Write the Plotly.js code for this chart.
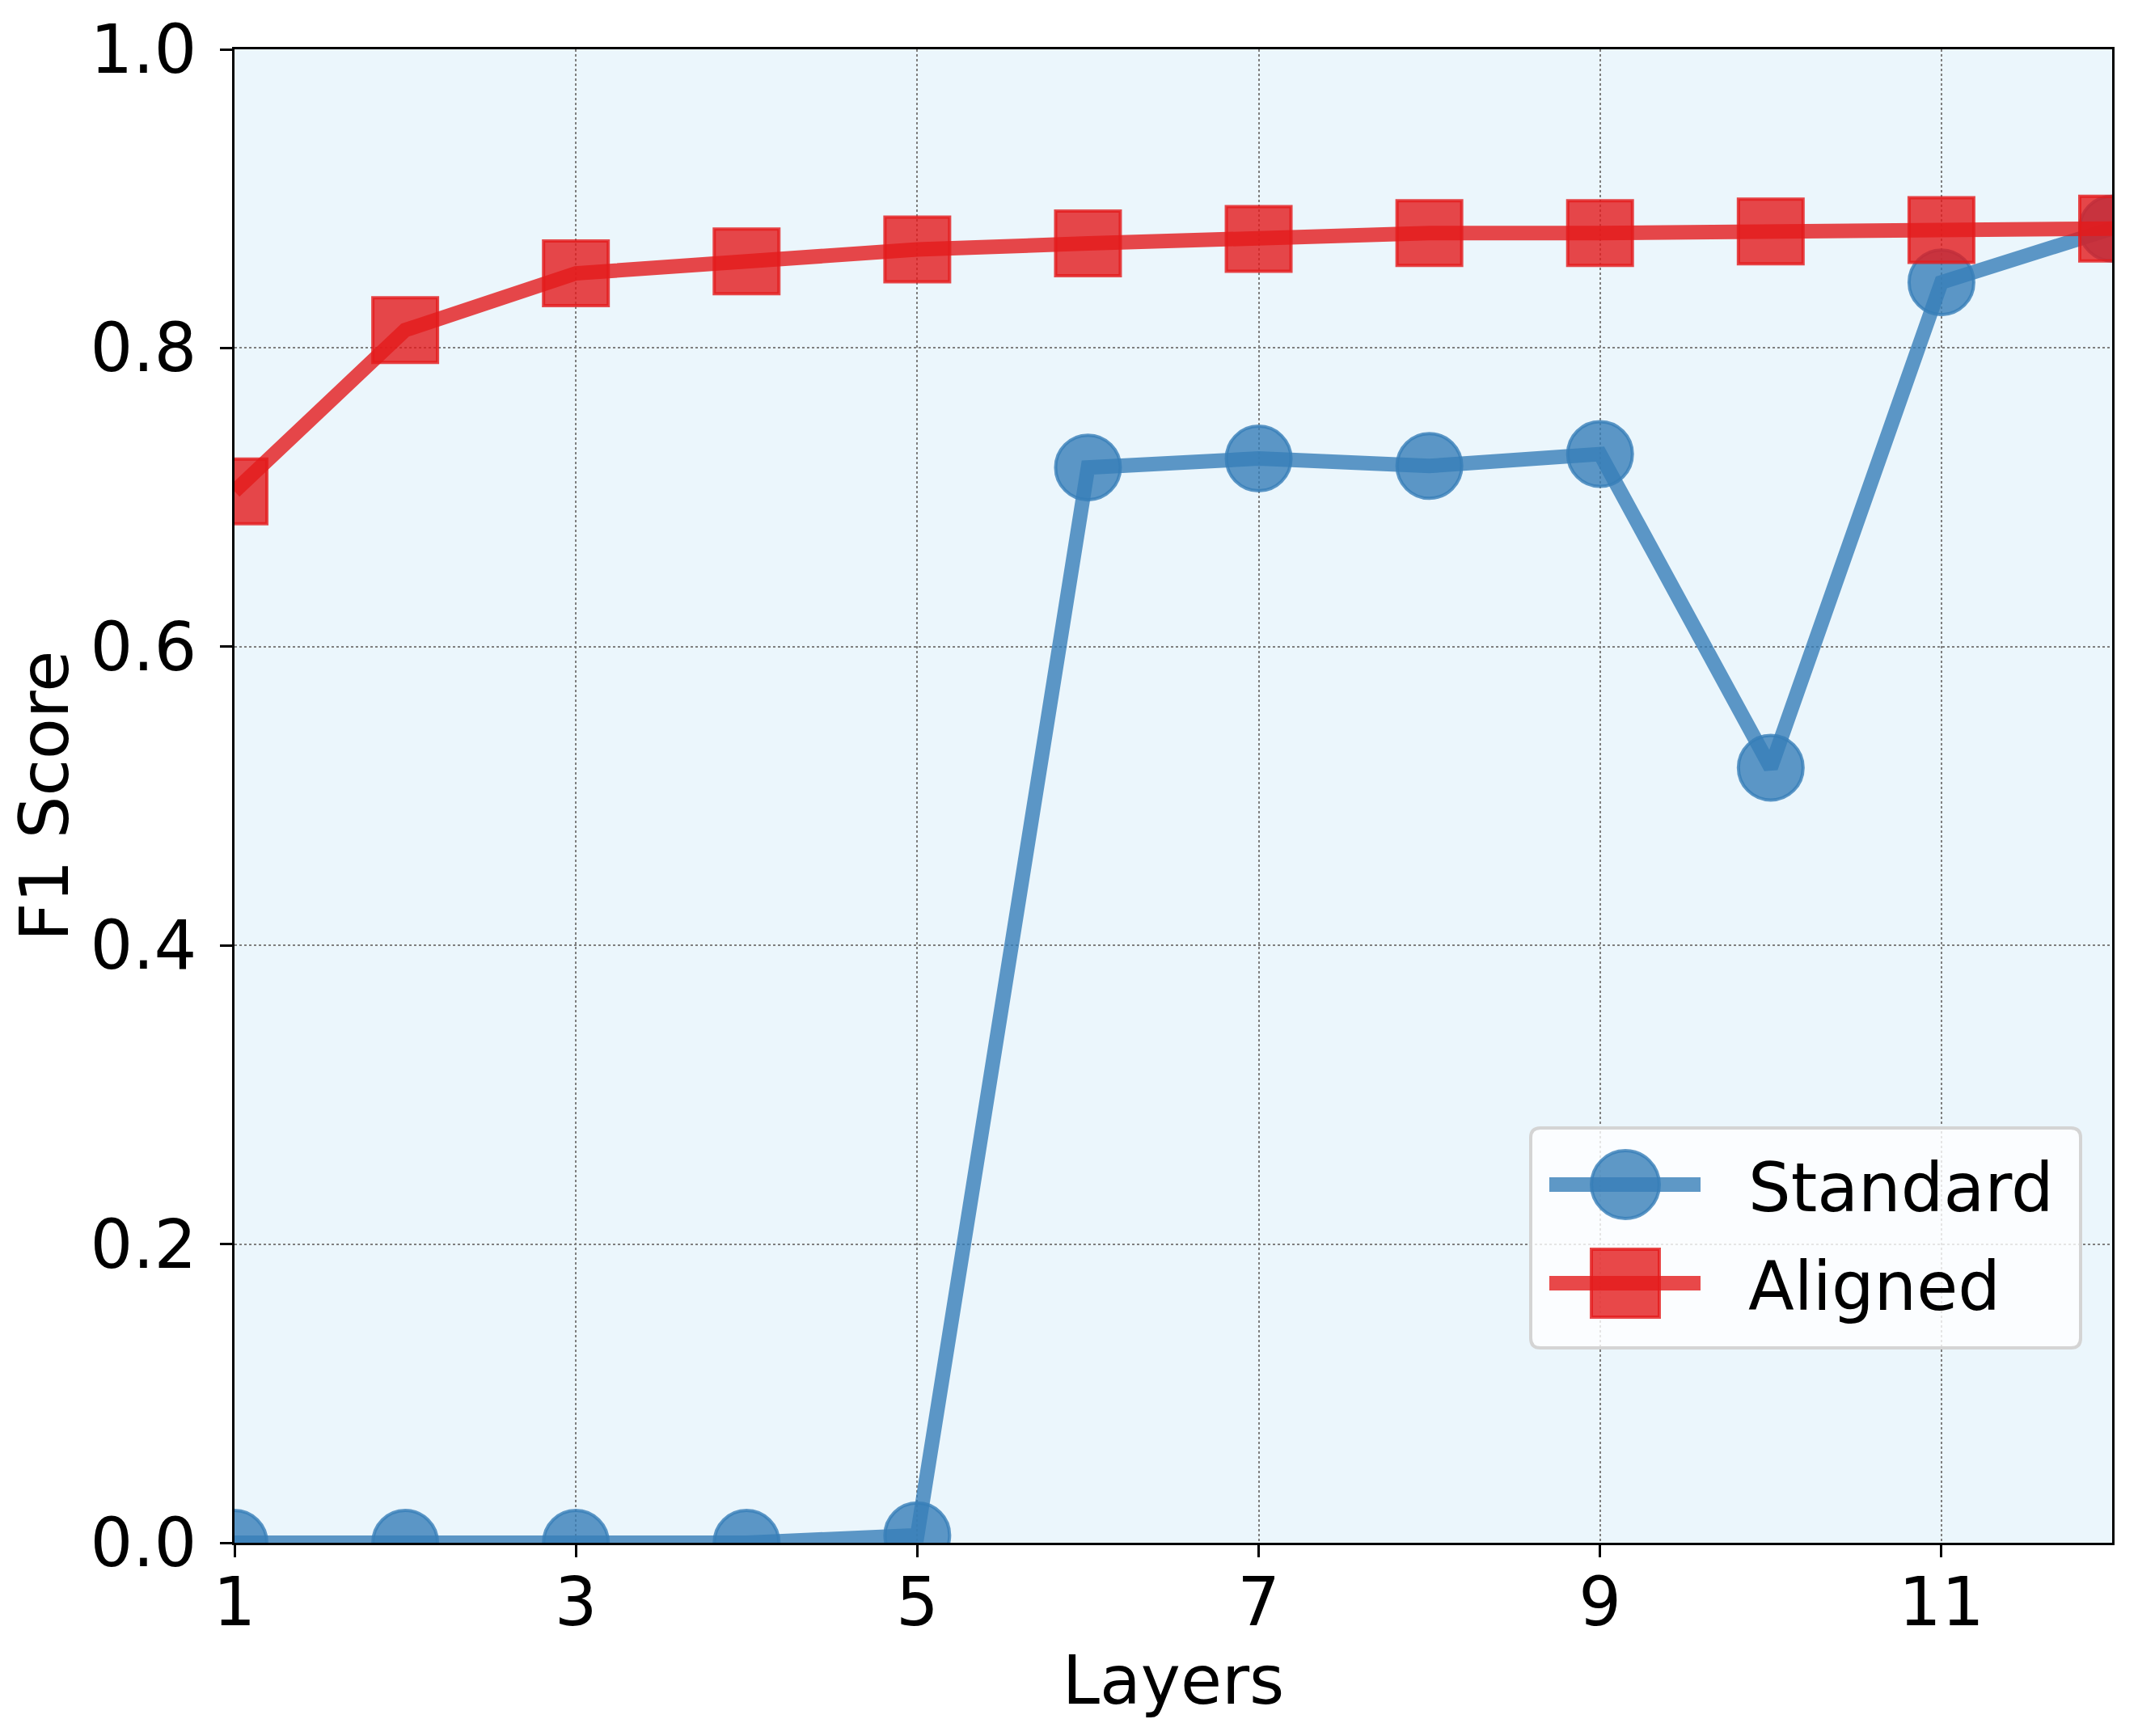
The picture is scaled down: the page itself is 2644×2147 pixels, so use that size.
<!DOCTYPE html>
<html>
<head>
<meta charset="utf-8">
<script src="https://cdn.plot.ly/plotly-3.0.1.min.js"></script>
<style>html,body{margin:0;padding:0;background:#fff;}#chart{width:2644px;height:2147px;}</style>
</head>
<body>
<div id="chart"></div>
<script>
// ---- data ----
const layers = [1, 2, 3, 4, 5, 6, 7, 8, 9, 10, 11, 12];
const standardF1 = [0.0, 0.0, 0.0, 0.0, 0.005, 0.720, 0.726, 0.721, 0.729, 0.519, 0.844, 0.880];
const alignedF1 = [0.704, 0.812, 0.850, 0.858, 0.866, 0.870, 0.873, 0.877, 0.877, 0.878, 0.879, 0.880];
const seriesNames = ['Standard', 'Aligned'];
const xTicks = [1, 3, 5, 7, 9, 11];
const yTicks = [0.0, 0.2, 0.4, 0.6, 0.8, 1.0];
const yTickText = ['0.0', '0.2', '0.4', '0.6', '0.8', '1.0'];

// ---- style ----
const W = 2644, H = 2147;
const L = 290, R = 2612, T = 61, B = 1908;
const blue = 'rgba(55,126,184,0.8)';
const red = 'rgba(228,26,28,0.8)';
const FONT = 'DejaVu Sans, Liberation Sans, sans-serif';
const TICK_SIZE = 83, TITLE_SIZE = 83;
const px = x => (x - L) / (R - L);
const py = y => (B - y) / (B - T);

const traces = [
  {
    x: layers, y: standardF1, name: seriesNames[0], type: 'scatter', mode: 'lines+markers',
    line: {color: blue, width: 18},
    marker: {symbol: 'circle', size: 80, color: blue, line: {color: blue, width: 4}},
    showlegend: false
  },
  {
    x: layers, y: alignedF1, name: seriesNames[1], type: 'scatter', mode: 'lines+markers',
    line: {color: red, width: 18},
    marker: {symbol: 'square', size: 80, color: red, line: {color: red, width: 4}},
    showlegend: false
  }
];

// custom legend (rounded box, big symbols)
const bx0 = 1893, bx1 = 2573, by0 = 1395, by1 = 1667, rr = 12;
function rpath() {
  const X = v => px(v), Y = v => py(v);
  return 'M' + X(bx0 + rr) + ',' + Y(by0) +
    ' L' + X(bx1 - rr) + ',' + Y(by0) +
    ' Q' + X(bx1) + ',' + Y(by0) + ' ' + X(bx1) + ',' + Y(by0 + rr) +
    ' L' + X(bx1) + ',' + Y(by1 - rr) +
    ' Q' + X(bx1) + ',' + Y(by1) + ' ' + X(bx1 - rr) + ',' + Y(by1) +
    ' L' + X(bx0 + rr) + ',' + Y(by1) +
    ' Q' + X(bx0) + ',' + Y(by1) + ' ' + X(bx0) + ',' + Y(by1 - rr) +
    ' L' + X(bx0) + ',' + Y(by0 + rr) +
    ' Q' + X(bx0) + ',' + Y(by0) + ' ' + X(bx0 + rr) + ',' + Y(by0) + ' Z';
}
const rowY = [1465, 1587];
const symColors = [blue, red];
const shapes = [
  {type: 'path', xref: 'paper', yref: 'paper', path: rpath(), layer: 'above',
   fillcolor: 'rgba(255,255,255,0.8)', line: {color: '#d4d4d4', width: 4}}
];
const annotations = [];
rowY.forEach((yy, i) => {
  shapes.push({type: 'line', xref: 'paper', yref: 'paper', layer: 'above',
    x0: px(1916), x1: px(2103), y0: py(yy), y1: py(yy), line: {color: symColors[i], width: 18}});
  shapes.push({type: i === 0 ? 'circle' : 'rect', xref: 'paper', yref: 'paper', layer: 'above',
    x0: px(1968), x1: px(2052), y0: py(yy - 42), y1: py(yy + 42),
    fillcolor: symColors[i], line: {color: symColors[i], width: 4}});
  annotations.push({xref: 'paper', yref: 'paper', x: px(2160), y: py(yy + 4), xanchor: 'left', yanchor: 'middle',
    text: seriesNames[i], showarrow: false, font: {family: FONT, size: TITLE_SIZE, color: '#000'}});
});

const layout = {
  width: W, height: H,
  margin: {l: L, r: W - R, t: T, b: H - B, pad: 0},
  paper_bgcolor: '#ffffff',
  plot_bgcolor: '#ebf6fc',
  font: {family: FONT, size: TICK_SIZE, color: '#000'},
  showlegend: false,
  xaxis: {
    range: [1, 12], tickmode: 'array', tickvals: xTicks, ticktext: xTicks.map(String),
    showline: true, linecolor: '#000', linewidth: 3, mirror: true,
    ticks: 'outside', ticklen: 15, tickwidth: 3, tickcolor: '#000',
    ticklabelstandoff: -16,
    showgrid: true, gridcolor: '#7f7f7f', gridwidth: 2, griddash: 'dot',
    zeroline: false,
    tickfont: {family: FONT, size: TICK_SIZE, color: '#000'},
    title: {text: 'Layers', font: {family: FONT, size: TITLE_SIZE, color: '#000'}, standoff: 12}
  },
  yaxis: {
    range: [0, 1], tickmode: 'array', tickvals: yTicks, ticktext: yTickText,
    showline: true, linecolor: '#000', linewidth: 3, mirror: true,
    ticks: 'outside', ticklen: 15, tickwidth: 3, tickcolor: '#000',
    ticklabelstandoff: 12,
    showgrid: true, gridcolor: '#7f7f7f', gridwidth: 2, griddash: 'dot',
    zeroline: false,
    tickfont: {family: FONT, size: TICK_SIZE, color: '#000'},
    title: {text: 'F1 Score', font: {family: FONT, size: TITLE_SIZE, color: '#000'}, standoff: 0}
  },
  shapes: shapes,
  annotations: annotations
};

Plotly.newPlot('chart', traces, layout, {displayModeBar: false, staticPlot: true});
</script>
</body>
</html>
